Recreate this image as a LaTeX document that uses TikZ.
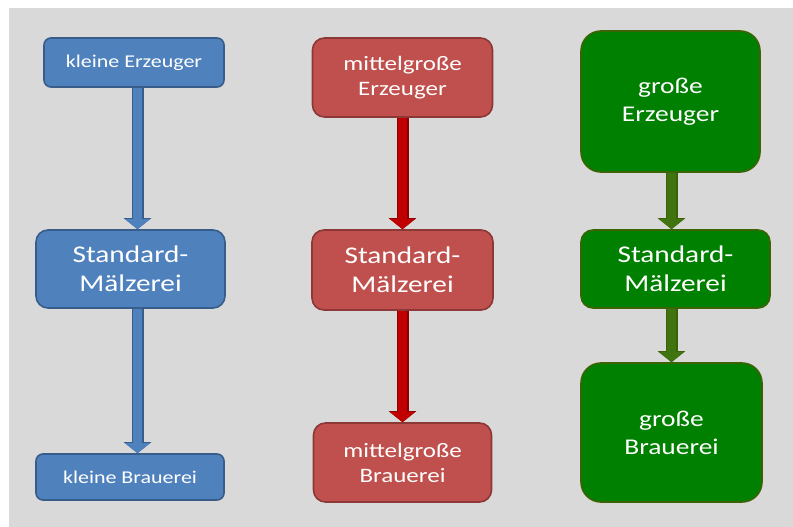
\documentclass[tikz,border=0pt]{standalone}
\usepackage{fontspec}
\setmainfont{Carlito}[FakeStretch=1.22]
\usetikzlibrary{arrows.meta}
\definecolor{panelgray}{HTML}{D9D9D9}
\definecolor{bluefill}{HTML}{4F81BD}
\definecolor{blueline}{HTML}{385D8A}
\definecolor{redfill}{HTML}{C0504D}
\definecolor{redline}{HTML}{8C3836}
\definecolor{redarrow}{HTML}{C00000}
\definecolor{redarrowline}{HTML}{8B0000}
\definecolor{greenfill}{HTML}{008000}
\definecolor{greenline}{HTML}{3B6304}
\definecolor{greenarrow}{HTML}{3F7410}
\begin{document}
\begin{tikzpicture}[x=1pt, y=-1pt,
    box/.style={rounded corners=#1, line width=1.6pt, text=white, align=center,
                inner sep=0pt},
    bluebox/.style={box=7pt, draw=blueline, fill=bluefill},
    redbox/.style={box=12pt, draw=redline, fill=redfill},
    greenbox/.style={box=12pt, draw=greenline, fill=greenfill},
    small/.style={font=\fontsize{18}{22}\selectfont},
    middle/.style={font=\fontsize{20.5}{25}\selectfont},
    large/.style={font=\fontsize{22.5}{28}\selectfont},
    huge/.style={font=\fontsize{24}{29}\selectfont},
    flow/.style={line width=9pt, draw=#1,
                 -{Triangle[width=24pt, length=10pt]}},
    flowline/.style={preaction={draw=#1, line width=12pt,
                 -{Triangle[width=27pt, length=11pt]}}}]
    \useasboundingbox (0,0) rectangle (793,527);
    \fill[white] (0,0) rectangle (793,527);
    \fill[panelgray] (9,8) rectangle (793,527);

    % kleine Betriebe
    \node[bluebox, small, minimum width=180pt, minimum height=49pt] (e1) at (134,62.5)
        {kleine Erzeuger};
    \node[bluebox, huge, box=12pt, minimum width=189pt, minimum height=78pt] (m1) at (130.5,269)
        {Standard-\\Mälzerei};
    \node[bluebox, small, minimum width=188pt, minimum height=46pt] (b1) at (130,477)
        {kleine Brauerei};

    % mittelgroße Betriebe
    \node[redbox, middle, minimum width=180pt, minimum height=79pt] (e2) at (402.5,77.5)
        {mittelgroße\\Erzeuger};
    \node[redbox, huge, minimum width=181pt, minimum height=80pt] (m2) at (402.5,270)
        {Standard-\\Mälzerei};
    \node[redbox, middle, minimum width=178pt, minimum height=79pt] (b2) at (402.5,462.5)
        {mittelgroße\\Brauerei};

    % große Betriebe
    \node[greenbox, large, box=20pt, minimum width=179pt, minimum height=141pt] (e3) at (670.5,101.5)
        {große\\Erzeuger};
    \node[greenbox, huge, minimum width=189pt, minimum height=78pt] (m3) at (675.5,269)
        {Standard-\\Mälzerei};
    \node[greenbox, large, box=20pt, minimum width=181pt, minimum height=139pt] (b3) at (671.5,432.5)
        {große\\Brauerei};

    % Pfeile
    \draw[flow=bluefill, flowline=blueline] ([xshift=3.5pt]e1.south) -- ([xshift=3.5pt]e1.south |- m1.north);
    \draw[flow=bluefill, flowline=blueline] ([xshift=3.5pt]e1.south |- m1.south) -- ([xshift=3.5pt]e1.south |- b1.north);
    \draw[flow=redarrow, flowline=redarrowline] (e2.south) -- (m2.north);
    \draw[flow=redarrow, flowline=redarrowline] (m2.south) -- (b2.north);
    \draw[flow=greenarrow, flowline=greenline] ([xshift=1pt]e3.south) -- ([xshift=1pt]e3.south |- m3.north);
    \draw[flow=greenarrow, flowline=greenline] (b3.north |- m3.south) -- (b3.north);
\end{tikzpicture}
\end{document}
